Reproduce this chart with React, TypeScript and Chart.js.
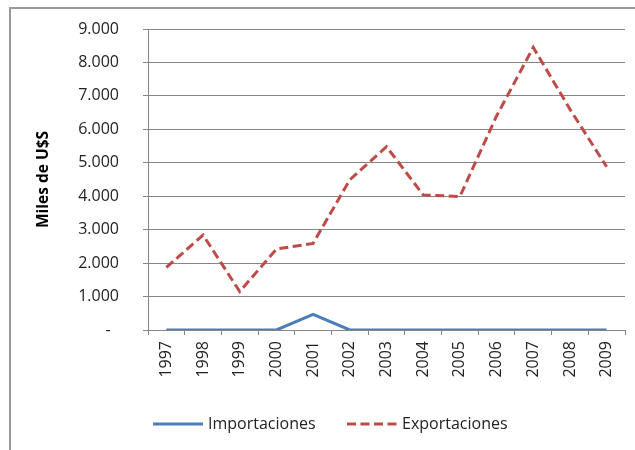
import React, { useEffect, useRef } from "react";
import { Chart, registerables } from "chart.js";

Chart.register(...registerables);

const years = ["1997", "1998", "1999", "2000", "2001", "2002", "2003", "2004", "2005", "2006", "2007", "2008", "2009"];
const importaciones = [0, 0, 0, 0, 470, 0, 0, 0, 0, 0, 0, 0, 0];
const exportaciones = [1870, 2840, 1150, 2420, 2590, 4490, 5480, 4040, 3990, 6400, 8450, 6600, 4880];
const yTicks = [0, 1000, 2000, 3000, 4000, 5000, 6000, 7000, 8000, 9000];

const FONT = "'Open Sans', 'DejaVu Sans', sans-serif";
const GRID = "#868686";

const fmt = (v: number) => (v === 0 ? "-  " : String(v).replace(/\B(?=(\d{3})+(?!\d))/g, "."));

const legendPlugin = {
  id: "customLegend",
  afterDraw(chart: any) {
    const ctx = chart.ctx;
    const y = 424;
    const items = [
      { x1: 153, x2: 203, tx: 208 },
      { x1: 347, x2: 397, tx: 402 },
    ];
    ctx.save();
    chart.data.datasets.forEach((ds: any, i: number) => {
      const it = items[i];
      ctx.beginPath();
      ctx.strokeStyle = ds.borderColor;
      ctx.lineWidth = ds.borderWidth;
      ctx.setLineDash(ds.borderDash || []);
      ctx.moveTo(it.x1, y);
      ctx.lineTo(it.x2, y);
      ctx.stroke();
      ctx.setLineDash([]);
      ctx.fillStyle = "#222";
      ctx.font = `16px ${FONT}`;
      ctx.textBaseline = "middle";
      ctx.textAlign = "left";
      ctx.fillText(ds.label, it.tx, y);
    });
    ctx.restore();
  },
};

export default function App() {
  const ref = useRef<HTMLCanvasElement | null>(null);
  useEffect(() => {
    if (!ref.current) return;
    const chart = new Chart(ref.current, {
      type: "line",
      data: {
        labels: years,
        datasets: [
          {
            label: "Importaciones",
            data: importaciones,
            borderColor: "#4a7ebb",
            backgroundColor: "#4a7ebb",
            borderWidth: 3,
            pointRadius: 0,
            tension: 0,
          },
          {
            label: "Exportaciones",
            data: exportaciones,
            borderColor: "#be4b48",
            backgroundColor: "#be4b48",
            borderWidth: 3,
            borderDash: [9, 4.5],
            pointRadius: 0,
            tension: 0,
          },
        ],
      },
      options: {
        responsive: false,
        animation: false,
        layout: { padding: { left: 0, top: 29, right: 10, bottom: 0 } },
        plugins: { legend: { display: false }, tooltip: { enabled: false } },
        scales: {
          x: {
            offset: true,
            grid: {
              display: true,
              drawOnChartArea: false,
              drawTicks: true,
              tickLength: 5,
              offset: true,
              color: GRID,
            },
            border: { display: true, color: GRID },
            ticks: {
              maxRotation: 90,
              minRotation: 90,
              padding: 6,
              color: "#222",
              font: { family: FONT, size: 16 },
            },
            afterFit: (s: any) => {
              s.height = 120;
              s.paddingLeft = 0;
              s.paddingRight = 0;
            },
          },
          y: {
            min: 0,
            max: 9000,
            afterBuildTicks: (s: any) => {
              s.ticks = yTicks.map((v) => ({ value: v }));
            },
            grid: { color: GRID, tickLength: 5, drawTicks: true },
            border: { display: true, color: GRID },
            ticks: {
              padding: 24,
              color: "#222",
              font: { family: FONT, size: 16 },
              callback: (v: any) => fmt(Number(v)),
            },
            title: {
              display: true,
              text: "Miles de U$S",
              color: "#000",
              font: { family: FONT, size: 15.5, weight: "bold" },
              padding: { top: 34, bottom: 0 },
            },
            afterFit: (s: any) => {
              s.width = 148;
              s.paddingTop = 0;
              s.paddingBottom = 0;
            },
          },
        },
      },
      plugins: [legendPlugin],
    });
    return () => chart.destroy();
  }, []);
  return (
    <div style={{ position: "absolute", left: 0, top: 0, width: 635, height: 450, overflow: "hidden", background: "#fff" }}>
      <div
        style={{
          position: "absolute",
          left: 9,
          top: 7,
          width: 700,
          height: 500,
          border: "2px solid #9a9a9a",
          boxSizing: "border-box",
        }}
      />
      <canvas ref={ref} width={635} height={450} style={{ position: "absolute", left: 0, top: 0 }} />
    </div>
  );
}
